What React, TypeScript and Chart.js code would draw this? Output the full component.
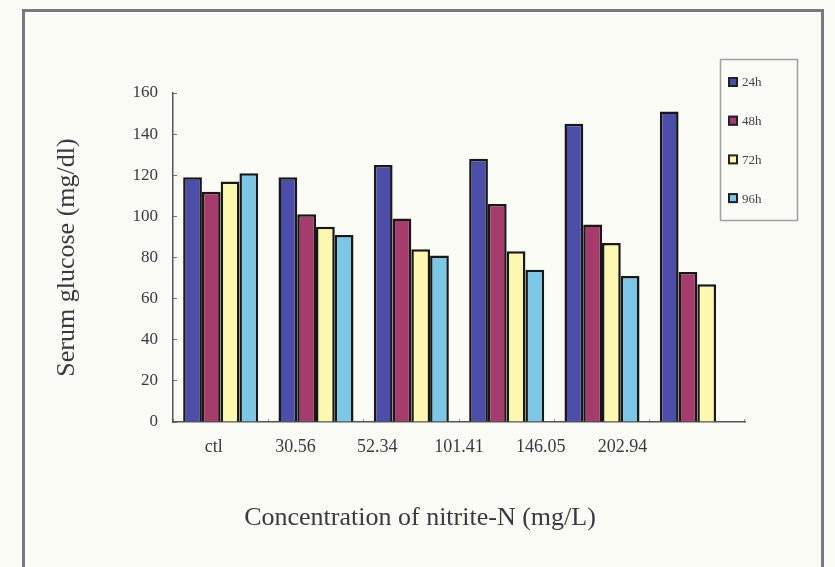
import React, { useEffect, useRef } from "react";
import { Chart, registerables } from "chart.js";

Chart.register(...registerables);

const categories = ["ctl", "30.56", "52.34", "101.41", "146.05", "202.94"];
const tickLabels = [...categories, ""];
const seriesNames = ["24h", "48h", "72h", "96h"];
const values24h = [119, 119, 125, 128, 145, 151];
const values48h = [112, 101, 99, 106, 96, 73];
const values72h = [117, 95, 84, 83, 87, 67];
const values96h = [121, 91, 81, 74, 71, null];
const seriesColors = ["#4d4daa", "#a53c6c", "#fcf8b0", "#7cc6e6"];
const yMin = 0;
const yMax = 160;
const yStep = 20;
const xTitle = "Concentration of nitrite-N (mg/L)";
const yTitle = "Serum glucose (mg/dl)";

const SERIF = "'Liberation Serif', 'Times New Roman', serif";

const framePlugin = {
  id: "frame",
  beforeDraw(chart: any) {
    const { ctx, width, height } = chart;
    ctx.save();
    ctx.fillStyle = "#fbfbf5";
    ctx.fillRect(0, 0, width, height);
    ctx.strokeStyle = "#7a7a7a";
    ctx.lineWidth = 3;
    ctx.strokeRect(23.5, 10.5, 799, height + 20);
    ctx.restore();
  },
};

const legendPlugin = {
  id: "boxLegend",
  afterDraw(chart: any) {
    const ctx = chart.ctx;
    ctx.save();
    ctx.strokeStyle = "#a0a0a0";
    ctx.lineWidth = 1.5;
    ctx.strokeRect(720.5, 59.5, 77, 161);
    chart.data.datasets.forEach((ds: any, i: number) => {
      const cy = 82 + i * 38.7;
      ctx.fillStyle = ds.backgroundColor;
      ctx.fillRect(728, cy - 5, 10, 10);
      ctx.strokeStyle = "#222";
      ctx.lineWidth = 2;
      ctx.strokeRect(729, cy - 4, 8, 8);
      ctx.fillStyle = "#444";
      ctx.font = "13px " + SERIF;
      ctx.textBaseline = "middle";
      ctx.textAlign = "left";
      ctx.fillText(ds.label, 742, cy + 1);
    });
    ctx.restore();
  },
};

export default function App() {
  const ref = useRef<HTMLCanvasElement>(null);
  useEffect(() => {
    if (!ref.current) return;
    const seriesValues = [values24h, values48h, values72h, values96h];
    const chart = new Chart(ref.current, {
      type: "bar",
      data: {
        labels: categories,
        datasets: seriesNames.map((name, i) => ({
          label: name,
          data: seriesValues[i] as any,
          backgroundColor: seriesColors[i],
          borderColor: "#181818",
          borderWidth: 2.5,
          xAxisID: "x",
          yAxisID: "y",
          categoryPercentage: 0.787,
          barPercentage: 1,
        })),
      },
      options: {
        responsive: false,
        animation: false,
        devicePixelRatio: 1,
        layout: { padding: { top: 93, right: 90, bottom: 0, left: 0 } },
        plugins: { legend: { display: false }, tooltip: { enabled: false } },
        scales: {
          x: {
            type: "category",
            position: "bottom",
            grid: { display: true, drawOnChartArea: false, tickLength: -3, color: "#999" },
            border: { display: true, color: "#555", width: 1.5 },
            ticks: { display: false },
            afterFit(scale: any) {
              scale.height = 0;
            },
          },
          x2: {
            type: "category",
            position: "bottom",
            labels: tickLabels,
            grid: { display: false, drawTicks: false },
            border: { display: false },
            ticks: {
              padding: 14,
              autoSkip: false,
              maxRotation: 0,
              color: "#3a3a3a",
              font: { family: SERIF, size: 18 },
            },
            title: {
              display: true,
              text: xTitle + "\u00a0".repeat(12),
              color: "#3a3a3a",
              font: { family: SERIF, size: 26 },
              padding: { top: 0, bottom: 33 },
            },
            afterFit(scale: any) {
              scale.height = 145;
            },
          },
          y: {
            min: yMin,
            max: yMax,
            grid: { display: true, drawOnChartArea: false, tickLength: -4, color: "#777" },
            border: { display: true, color: "#555", width: 1.5 },
            ticks: {
              stepSize: yStep,
              padding: 19,
              color: "#3a3a3a",
              font: { family: SERIF, size: 17 },
            },
            title: {
              display: true,
              text: yTitle,
              color: "#3a3a3a",
              font: { family: SERIF, size: 26 },
              padding: { top: 52, bottom: 0 },
            },
            afterFit(scale: any) {
              scale.width = 173;
            },
          },
        },
      },
      plugins: [framePlugin, legendPlugin],
    });
    return () => chart.destroy();
  }, []);
  return (
    <div style={{ position: "fixed", left: 0, top: 0, width: 835, height: 567 }}>
      <canvas ref={ref} width={835} height={567} style={{ width: 835, height: 567, display: "block" }} />
    </div>
  );
}
